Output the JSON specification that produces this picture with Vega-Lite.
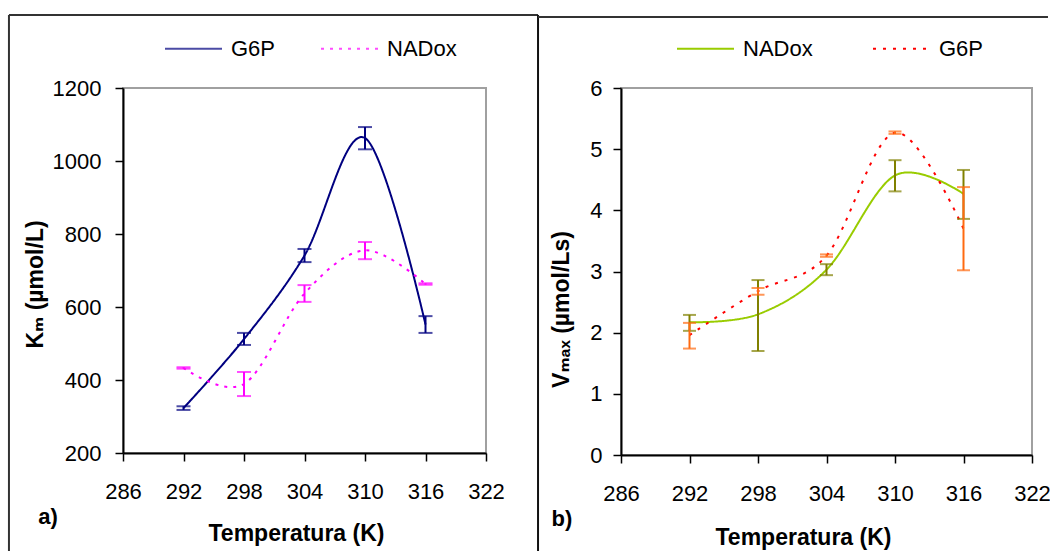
{
  "$schema": "https://vega.github.io/schema/vega-lite/v6.json",
  "padding": {"left": 6, "top": 13, "right": 0, "bottom": 0},
  "background": "white",
  "spacing": -5,
  "config": {
    "font": "Liberation Sans, DejaVu Sans, sans-serif",
    "view": {"stroke": "#a0a0a0", "strokeWidth": 2},
    "axis": {
      "domainColor": "black", "domainWidth": 2, "tickColor": "black", "tickWidth": 1.5, "tickSize": 8,
      "labelFont": "Liberation Sans", "labelFontSize": 22, "labelColor": "black", "format": "d",
      "titleFont": "Liberation Sans, DejaVu Sans", "titleFontSize": 23, "titleFontWeight": "bold", "titleColor": "black",
      "grid": false, "zindex": 1, "labelFlush": false, "labelOverlap": false
    },
    "legend": {
      "labelFontSize": 22, "labelFont": "Liberation Sans", "labelColor": "black",
      "symbolType": "stroke", "symbolSize": 3249, "symbolStrokeWidth": 2, "labelOffset": 8
    }
  },
  "datasets": {
    "km": [
      {"T": 292, "serie": "G6P", "v": 323, "lo": 318, "hi": 328},
      {"T": 298, "serie": "G6P", "v": 512, "lo": 496, "hi": 529},
      {"T": 304, "serie": "G6P", "v": 741, "lo": 723, "hi": 759},
      {"T": 310, "serie": "G6P", "v": 1063, "lo": 1032, "hi": 1093},
      {"T": 316, "serie": "G6P", "v": 552, "lo": 529, "hi": 575},
      {"T": 292, "serie": "NADox", "v": 433, "lo": 431, "hi": 435},
      {"T": 298, "serie": "NADox", "v": 389, "lo": 356, "hi": 422},
      {"T": 304, "serie": "NADox", "v": 637, "lo": 614, "hi": 660},
      {"T": 310, "serie": "NADox", "v": 755, "lo": 731, "hi": 778},
      {"T": 316, "serie": "NADox", "v": 663, "lo": 661, "hi": 665}
    ],
    "vmax": [
      {"T": 292, "serie": "NADox", "v": 2.17, "lo": 2.03, "hi": 2.29},
      {"T": 298, "serie": "NADox", "v": 2.30, "lo": 1.70, "hi": 2.86},
      {"T": 304, "serie": "NADox", "v": 3.03, "lo": 2.94, "hi": 3.12},
      {"T": 310, "serie": "NADox", "v": 4.57, "lo": 4.31, "hi": 4.82},
      {"T": 316, "serie": "NADox", "v": 4.27, "lo": 3.86, "hi": 4.66},
      {"T": 292, "serie": "G6P", "v": 1.96, "lo": 1.74, "hi": 2.16},
      {"T": 298, "serie": "G6P", "v": 2.68, "lo": 2.62, "hi": 2.73},
      {"T": 304, "serie": "G6P", "v": 3.26, "lo": 3.24, "hi": 3.28},
      {"T": 310, "serie": "G6P", "v": 5.27, "lo": 5.25, "hi": 5.29},
      {"T": 316, "serie": "G6P", "v": 3.70, "lo": 3.02, "hi": 4.38}
    ]
  },
  "hconcat": [
    {
      "width": 363,
      "height": 365,
      "data": {"name": "km"},
      "layer": [
        {
          "data": {"values": [{}]},
          "mark": {"type": "rule", "color": "#333333", "strokeWidth": 2},
          "encoding": {"x": {"datum": 274.69}, "x2": {"datum": 327.16}, "y": {"datum": 1400}}
        },
        {
          "data": {"values": [{}]},
          "mark": {"type": "rule", "color": "#333333", "strokeWidth": 2},
          "encoding": {"x": {"datum": 274.69}, "y": {"datum": 1400}, "y2": {"datum": -68.5}}
        },
        {
          "data": {"values": [{}]},
          "mark": {"type": "rule", "color": "#111111", "strokeWidth": 2},
          "encoding": {"x": {"datum": 327.16}, "y": {"datum": 1400}, "y2": {"datum": -68.5}}
        },
        {
          "data": {"values": [{}]},
          "mark": {"type": "text", "text": "a)", "fontWeight": "bold", "fontSize": 22, "align": "center", "baseline": "middle", "font": "Liberation Sans"},
          "encoding": {"x": {"datum": 278.56}, "y": {"datum": 24.7}}
        },
        {
          "mark": {"type": "line", "interpolate": "cardinal", "strokeWidth": 2},
          "encoding": {
            "x": {
              "field": "T", "type": "quantitative", "title": "Temperatura (K)",
              "scale": {"domain": [286, 322], "nice": false, "zero": false},
              "axis": {"values": [286, 292, 298, 304, 310, 316, 322], "labelPadding": 20, "titleX": 173, "titleY": 87, "titleBaseline": "alphabetic"}
            },
            "y": {
              "field": "v", "type": "quantitative", "title": "Kₘ (µmol/L)",
              "scale": {"domain": [200, 1200], "nice": false, "zero": false},
              "axis": {"values": [200, 400, 600, 800, 1000, 1200], "labelPadding": 14, "titlePadding": 5, "titleY": 196}
            },
            "color": {
              "field": "serie", "type": "nominal",
              "scale": {"domain": ["G6P", "NADox"], "range": ["#000080", "#ff00ff"]},
              "legend": {"title": null, "orient": "none", "direction": "horizontal", "legendX": 41, "legendY": -69, "columnPadding": 41}
            },
            "strokeDash": {
              "field": "serie", "type": "nominal",
              "scale": {"domain": ["G6P", "NADox"], "range": [[1, 0], [3, 6]]},
              "legend": {"title": null, "orient": "none", "direction": "horizontal", "legendX": 41, "legendY": -69, "columnPadding": 41}
            }
          }
        },
        {
          "mark": {"type": "errorbar", "ticks": {"size": 14, "thickness": 2}, "rule": {"strokeWidth": 2}},
          "encoding": {
            "x": {"field": "T", "type": "quantitative", "title": "Temperatura (K)"},
            "y": {"field": "lo", "type": "quantitative", "title": "Kₘ (µmol/L)"},
            "y2": {"field": "hi"},
            "color": {"field": "serie", "type": "nominal"}
          }
        }
      ]
    },
    {
      "width": 411,
      "height": 367,
      "data": {"name": "vmax"},
      "layer": [
        {
          "data": {"values": [{}]},
          "mark": {"type": "rule", "color": "#333333", "strokeWidth": 2},
          "encoding": {"x": {"datum": 278.73}, "x2": {"datum": 323.4}, "y": {"datum": 7.16}}
        },
        {
          "data": {"values": [{}]},
          "mark": {"type": "text", "text": "b)", "fontWeight": "bold", "fontSize": 22, "align": "center", "baseline": "middle", "font": "Liberation Sans"},
          "encoding": {"x": {"datum": 280.83}, "y": {"datum": -1.046}}
        },
        {
          "mark": {"type": "line", "interpolate": "cardinal", "strokeWidth": 2},
          "encoding": {
            "x": {
              "field": "T", "type": "quantitative", "title": "Temperatura (K)",
              "scale": {"domain": [286, 322], "nice": false, "zero": false},
              "axis": {"values": [286, 292, 298, 304, 310, 316, 322], "labelPadding": 20, "titleX": 182, "titleY": 89, "titleBaseline": "alphabetic"}
            },
            "y": {
              "field": "v", "type": "quantitative", "title": "Vₘₐₓ (µmol/Ls)",
              "scale": {"domain": [0, 6], "nice": false, "zero": false},
              "axis": {"values": [0, 1, 2, 3, 4, 5, 6], "labelPadding": 11, "titlePadding": 16, "titleY": 221}
            },
            "color": {
              "field": "serie", "type": "nominal",
              "scale": {"domain": ["NADox", "G6P"], "range": ["#99cc00", "#ff0000"]},
              "legend": {"title": null, "orient": "none", "direction": "horizontal", "legendX": 55, "legendY": -69, "columnPadding": 56}
            },
            "strokeDash": {
              "field": "serie", "type": "nominal",
              "scale": {"domain": ["NADox", "G6P"], "range": [[1, 0], [3, 7]]},
              "legend": {"title": null, "orient": "none", "direction": "horizontal", "legendX": 55, "legendY": -69, "columnPadding": 56}
            }
          }
        },
        {
          "transform": [{"filter": "datum.serie === 'NADox'"}],
          "mark": {"type": "errorbar", "ticks": {"size": 13, "thickness": 2}, "rule": {"strokeWidth": 2}, "color": "#808000"},
          "encoding": {
            "x": {"field": "T", "type": "quantitative", "title": "Temperatura (K)"},
            "y": {"field": "lo", "type": "quantitative", "title": "Vₘₐₓ (µmol/Ls)"},
            "y2": {"field": "hi"}
          }
        },
        {
          "transform": [{"filter": "datum.serie === 'G6P'"}],
          "mark": {"type": "errorbar", "ticks": {"size": 13, "thickness": 2}, "rule": {"strokeWidth": 2}, "color": "#ff6a10"},
          "encoding": {
            "x": {"field": "T", "type": "quantitative", "title": "Temperatura (K)"},
            "y": {"field": "lo", "type": "quantitative", "title": "Vₘₐₓ (µmol/Ls)"},
            "y2": {"field": "hi"}
          }
        }
      ]
    }
  ],
  "resolve": {
    "scale": {"x": "independent", "y": "independent", "color": "independent", "strokeDash": "independent"},
    "legend": {"color": "independent", "strokeDash": "independent"}
  }
}
